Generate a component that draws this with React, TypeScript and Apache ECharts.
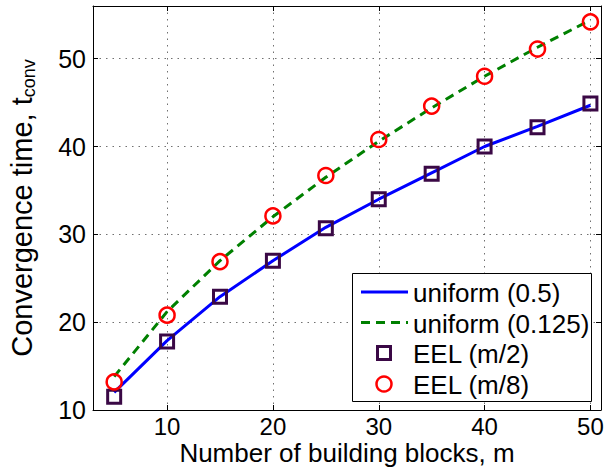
import React, { useEffect, useRef } from "react";
import * as echarts from "echarts";

// Number of building blocks m
const blocks = [5, 10, 15, 20, 25, 30, 35, 40, 45, 50];
// Analytic curves
const uniformHalf = [12.0, 17.9, 22.9, 27.0, 30.8, 34.0, 37.0, 40.0, 42.3, 44.7];
const uniformEighth = [13.8, 21.2, 27.0, 32.0, 36.5, 40.6, 44.4, 48.0, 51.3, 54.4];
// Simulated EEL results
const eelHalf = [11.5, 17.8, 22.9, 27.0, 30.7, 34.0, 36.9, 40.0, 42.2, 44.9];
const eelEighth = [13.2, 20.8, 26.9, 32.1, 36.7, 40.8, 44.6, 48.0, 51.1, 54.2];

const xTicks = [10, 20, 30, 40, 50];
const yTicks = [10, 20, 30, 40, 50];

const legendNames = ["uniform (0.5)", "uniform (0.125)", "EEL (m/2)", "EEL (m/8)"];

const FONT = "'Liberation Sans', Arial, Helvetica, sans-serif";
const BLUE = "#0000ff";
const GREEN = "#008000";
const PURPLE = "#3a0845";
const RED = "#ff0000";

const pairs = (xs: number[], ys: number[]) => xs.map((x, i) => [x, ys[i]]);

export default function App() {
  const ref = useRef<HTMLDivElement>(null);

  useEffect(() => {
    if (!ref.current) return;
    const chart = echarts.init(ref.current, null, { renderer: "svg" });

    const gridLine = { show: true, lineStyle: { color: "#707070", type: [1.5, 5] as any, width: 1 } };
    const boxAxis = {
      axisLine: { show: true, onZero: false, lineStyle: { color: "#000", width: 1 } },
      axisTick: { show: true, inside: true, length: 5, lineStyle: { color: "#000" } },
    };

    const rowY = [292, 322.5, 353, 384];
    const legend: any[] = [
      {
        type: "rect",
        shape: { x: 352.5, y: 273.5, width: 239, height: 128 },
        style: { fill: "#fff", stroke: "#000", lineWidth: 1 },
        z: 100,
      },
      {
        type: "line",
        shape: { x1: 361, y1: rowY[0], x2: 408, y2: rowY[0] },
        style: { stroke: BLUE, lineWidth: 3 },
        z: 101,
      },
      {
        type: "line",
        shape: { x1: 361, y1: rowY[1], x2: 408, y2: rowY[1] },
        style: { stroke: GREEN, lineWidth: 3, lineDash: [9, 6] },
        z: 101,
      },
      {
        type: "rect",
        shape: { x: 384 - 6.5, y: rowY[2] - 6.5, width: 13, height: 13 },
        style: { fill: "none", stroke: PURPLE, lineWidth: 3 },
        z: 101,
      },
      {
        type: "circle",
        shape: { cx: 384, cy: rowY[3], r: 7.5 },
        style: { fill: "none", stroke: RED, lineWidth: 2.5 },
        z: 101,
      },
      ...legendNames.map((name, i) => ({
        type: "text",
        x: 413,
        y: rowY[i] + 1,
        style: {
          text: name,
          fill: "#000",
          font: `26px ${FONT}`,
          verticalAlign: "middle",
          align: "left",
        },
        z: 101,
      })),
    ];

    chart.setOption({
      animation: false,
      backgroundColor: "#fff",
      textStyle: { fontFamily: FONT },
      grid: { left: 93, right: 4, top: 6, bottom: 59, containLabel: false, outerBoundsMode: "none" },
      xAxis: [
        {
          type: "value",
          min: 3,
          max: 51,
          ...boxAxis,
          axisTick: { ...boxAxis.axisTick, customValues: xTicks },
          axisLabel: {
            customValues: xTicks,
            color: "#000",
            fontSize: 24,
            lineHeight: 22,
            fontFamily: FONT,
            margin: 5,
          },
          splitLine: gridLine,
          name: "Number of building blocks, m",
          nameLocation: "middle",
          nameGap: 30,
          nameMoveOverlap: false,
          nameTextStyle: { color: "#000", fontSize: 26, lineHeight: 26, fontFamily: FONT },
        },
        {
          type: "value",
          position: "top",
          min: 3,
          max: 51,
          ...boxAxis,
          axisTick: { ...boxAxis.axisTick, customValues: xTicks },
          axisLabel: { show: false },
          splitLine: { show: false },
        },
      ],
      yAxis: [
        {
          type: "value",
          min: 10,
          max: 56,
          ...boxAxis,
          axisTick: { ...boxAxis.axisTick, customValues: yTicks },
          axisLabel: { customValues: yTicks, color: "#000", fontSize: 25, fontFamily: FONT, margin: 7 },
          splitLine: gridLine,
          name: "Convergence time, t{sub|conv}",
          nameLocation: "middle",
          nameGap: 55,
          nameMoveOverlap: false,
          nameRotate: 90,
          nameTextStyle: {
            color: "#000",
            fontSize: 29,
            fontFamily: FONT,
            rich: {
              sub: { fontSize: 18, fontFamily: FONT, color: "#000", verticalAlign: "bottom", padding: [14, 0, 0, 0] },
            },
          },
        },
        {
          type: "value",
          position: "right",
          min: 10,
          max: 56,
          ...boxAxis,
          axisTick: { ...boxAxis.axisTick, customValues: yTicks },
          axisLabel: { show: false },
          splitLine: { show: false },
        },
      ],
      series: [
        {
          name: legendNames[0],
          type: "line",
          data: pairs(blocks, uniformHalf),
          showSymbol: false,
          lineStyle: { color: BLUE, width: 3 },
          z: 2,
        },
        {
          name: legendNames[1],
          type: "line",
          data: pairs(blocks, uniformEighth),
          showSymbol: false,
          lineStyle: { color: GREEN, width: 3, type: [9, 6] },
          z: 2,
        },
        {
          name: legendNames[2],
          type: "scatter",
          data: pairs(blocks, eelHalf),
          symbol: "rect",
          symbolSize: 13,
          itemStyle: { color: "rgba(0,0,0,0)", borderColor: PURPLE, borderWidth: 3, opacity: 1 },
          z: 3,
        },
        {
          name: legendNames[3],
          type: "scatter",
          data: pairs(blocks, eelEighth),
          symbol: "circle",
          symbolSize: 15,
          itemStyle: { color: "rgba(0,0,0,0)", borderColor: RED, borderWidth: 2.5, opacity: 1 },
          z: 3,
        },
      ],
      graphic: legend,
    });

    return () => chart.dispose();
  }, []);

  return <div ref={ref} style={{ width: 605, height: 469, position: "absolute", left: 0, top: 0 }} />;
}
